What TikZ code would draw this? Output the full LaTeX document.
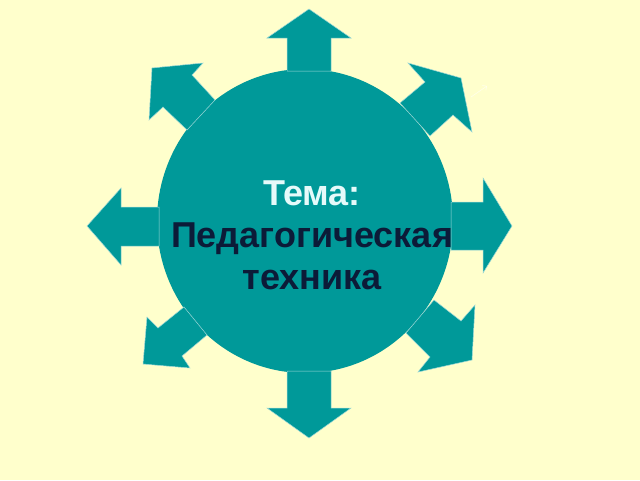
\documentclass[tikz,border=0pt]{standalone}
\usepackage{fontspec}
\usetikzlibrary{arrows.meta}
\setmainfont{Liberation Sans}
\definecolor{bgyellow}{HTML}{FFFFCC}
\definecolor{teal1}{HTML}{009999}
\definecolor{titlewhite}{HTML}{E6FAFA}
\definecolor{titledark}{HTML}{0C1B38}
\definecolor{seam}{HTML}{9ED8D8}
\tikzset{
  arrowshape/.style={fill=teal1, draw=seam, line width=0.5pt, line join=miter},
  hub/.style={fill=teal1, draw=none},
}
\begin{document}
\begin{tikzpicture}[x=1pt,y=-1pt]
\fill[bgyellow] (0,0) rectangle (640,480);
\useasboundingbox (0,0) rectangle (640,480);
% central disc
\fill[teal1] (305,221) ellipse [x radius=148, y radius=152];
% arrows
\path[arrowshape] (287,71) -- (287,38) -- (267,38) -- (309,9) -- (351,38) -- (331,38) -- (331,71) -- cycle;
\path[arrowshape] (287,371) -- (287,408) -- (267,408) -- (309,438) -- (351,408) -- (331,408) -- (331,371) -- cycle;
\path[arrowshape] (159,207) -- (121,207) -- (121,188) -- (87,226) -- (121,265) -- (121,246) -- (159,246) -- cycle;
\path[arrowshape] (451,202) -- (483,202) -- (483,178) -- (512,226) -- (483,273) -- (483,250) -- (451,250) -- cycle;
\path[arrowshape] (215,100) -- (192,75) -- (203,63) -- (152,68) -- (149,120) -- (163,107) -- (187,130) -- cycle;
\path[arrowshape] (400,103) -- (425,82) -- (408,63) -- (461,78) -- (472,132) -- (453,115) -- (430,136) -- cycle;
\path[arrowshape] (184,307) -- (158,328) -- (147,317) -- (143,364) -- (190,368) -- (182,356) -- (207,335) -- cycle;
\path[arrowshape] (434,300) -- (461,321) -- (475,305) -- (472,360) -- (418,372) -- (430,357) -- (406,333) -- cycle;
% faint mark
\coordinate (m1) at (471,97);
\coordinate (m2) at (487,86);
\draw[white, opacity=0.6, line width=0.6pt, -{Straight Barb[length=3pt]}] (m1) -- (m2);
% text
\node[align=center, inner sep=0pt, font=\bfseries\fontsize{36}{42}\selectfont] (title) at (312,235)
  {\textcolor{titlewhite}{Тема:}\\\textcolor{titledark}{Педагогическая}\\\textcolor{titledark}{техника}};
\end{tikzpicture}
\end{document}
